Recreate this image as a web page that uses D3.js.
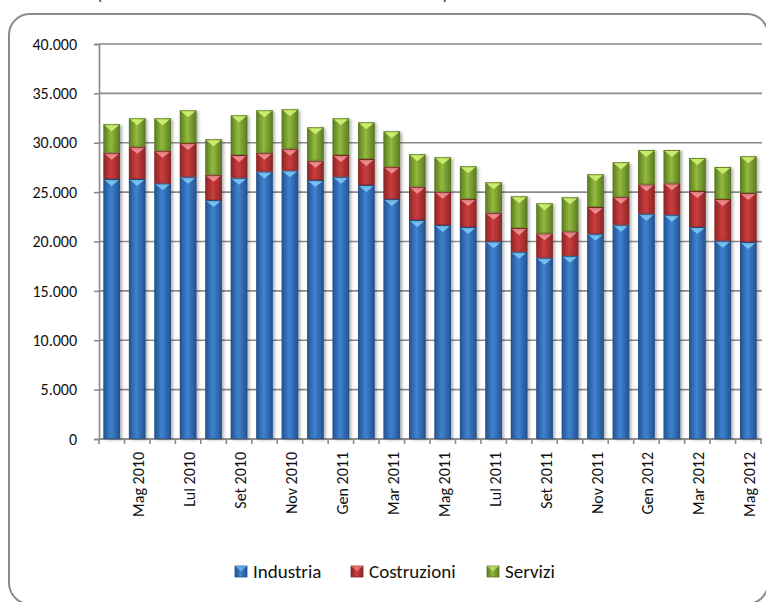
<!DOCTYPE html>
<html><head><meta charset="utf-8">
<script src="https://cdn.jsdelivr.net/npm/d3@7"></script>
<style>body{margin:0;background:#fff;}svg{display:block;}</style>
</head><body>
<svg id="c" width="766" height="602"></svg>
<script>
const months = ["Apr 2010","Mag 2010","Giu 2010","Lul 2010","Ago 2010","Set 2010","Ott 2010","Nov 2010","Dic 2010","Gen 2011","Feb 2011","Mar 2011","Apr 2011","Mag 2011","Giu 2011","Lul 2011","Ago 2011","Set 2011","Ott 2011","Nov 2011","Dic 2011","Gen 2012","Feb 2012","Mar 2012","Apr 2012","Mag 2012"];
const seriesNames = ["Industria","Costruzioni","Servizi"];
const industria   = [26330,26330,25890,26560,24200,26460,27100,27210,26230,26565,25720,24300,22175,21670,21470,20020,18970,18360,18560,20780,21700,22815,22715,21470,20085,19950];
const costruzioni = [2660,3270,3305,3410,2565,2300,1890,2190,1955,2195,2635,3275,3375,3375,2830,2900,2395,2470,2470,2715,2835,2975,3175,3645,4215,4960];
const servizi     = [2880,2875,3280,3310,3585,4020,4290,3985,3380,3715,3715,3585,3280,3480,3315,3075,3210,3035,3445,3310,3485,3475,3375,3340,3245,3720];
const yTicks = [0,5000,10000,15000,20000,25000,30000,35000,40000];

(function(){
const svg = d3.select("#c");
const font = "Carlito, Lato, 'Open Sans', sans-serif";
const colors = [
  {edge:"#24528e", mid:"#3f82d2", tip:"#7ccaf6"},
  {edge:"#8a2626", mid:"#cc3d3d", tip:"#f69494"},
  {edge:"#5a7a22", mid:"#92ba3e", tip:"#d4f274"}
];
const defs = svg.append("defs");
colors.forEach((c,i)=>{
  const g = defs.append("linearGradient").attr("id","g"+i).attr("x1","0").attr("x2","1").attr("y1","0").attr("y2","0");
  g.append("stop").attr("offset","0").attr("stop-color",c.edge);
  g.append("stop").attr("offset","0.45").attr("stop-color",c.mid);
  g.append("stop").attr("offset","1").attr("stop-color",c.edge);
});
const sh = defs.append("filter").attr("id","sh").attr("x","-30%").attr("y","-10%").attr("width","160%").attr("height","120%");
sh.append("feDropShadow").attr("dx",2).attr("dy",1).attr("stdDeviation",1.6).attr("flood-color","#000").attr("flood-opacity",0.3);

// frame
svg.append("rect").attr("x",9).attr("y",14).attr("width",759).attr("height",590).attr("rx",21)
  .attr("fill","none").attr("stroke","#8a8a8a").attr("stroke-width",2);

// cropped title parentheses (title lies above the visible area)
svg.append("text").attr("x",97).attr("y",0).attr("font-family",font).attr("font-size",16).attr("fill","#222").text("(");
svg.append("text").attr("x",443).attr("y",0).attr("font-family",font).attr("font-size",16).attr("fill","#222").text(")");

const pl = 99, pr = 761, pt = 44, pb = 439;
const x = d3.scaleBand().domain(months).range([pl,pr]).paddingInner(0.35).paddingOuter(0.175);
const y = d3.scaleLinear().domain([0,40000]).range([pb,pt]);

// gridlines
svg.append("g").selectAll("line").data(yTicks).join("line")
  .attr("x1",pl).attr("x2",pr+1).attr("y1",d=>y(d)).attr("y2",d=>y(d))
  .attr("stroke","#8a8a8a").attr("stroke-width",1.6);

// y axis
const yAx = svg.append("g").attr("transform",`translate(${pl},0)`)
  .call(d3.axisLeft(y).tickValues(yTicks).tickSize(5).tickPadding(17)
    .tickFormat(d=>d===0?"0":d3.format(",")(d).replace(/,/g,".")));
yAx.select(".domain").attr("stroke","#8a8a8a").attr("stroke-width",1.6);
yAx.selectAll(".tick line").attr("stroke","#8a8a8a").attr("stroke-width",1.6);
yAx.selectAll("text").attr("font-family",font).attr("font-size",16).attr("fill","#111");

// x axis ticks at category boundaries
const bounds = d3.range(months.length+1).map(i=>pl + i*(pr-pl)/months.length);
svg.append("g").selectAll("line").data(bounds).join("line")
  .attr("x1",d=>d).attr("x2",d=>d).attr("y1",pb).attr("y2",pb+5)
  .attr("stroke","#8a8a8a").attr("stroke-width",1.6);
svg.append("line").attr("x1",pl).attr("x2",pr).attr("y1",pb).attr("y2",pb)
  .attr("stroke","#8a8a8a").attr("stroke-width",1.6);

// stacked data
const rows = months.map((m,i)=>({month:m, Industria:industria[i], Costruzioni:costruzioni[i], Servizi:servizi[i]}));
const stack = d3.stack().keys(seriesNames)(rows);

const bw = x.bandwidth();
stack.forEach((layer,si)=>{
  const g = svg.append("g");
  layer.forEach(d=>{
    const x0 = x(d.data.month), y0 = y(d[1]), y1 = y(d[0]);
    const h = y1 - y0;
    g.append("rect").attr("x",x0).attr("y",y0).attr("width",bw).attr("height",h)
      .attr("fill",`url(#g${si})`).attr("filter","url(#sh)");
    g.append("rect").attr("x",x0+0.5).attr("y",y0+0.5).attr("width",bw-1).attr("height",h-1)
      .attr("fill","none").attr("stroke",colors[si].edge).attr("stroke-opacity",0.6).attr("stroke-width",1);
    g.append("path").attr("d",`M${x0+1},${y0+1}L${x0+bw-1},${y0+1}L${x0+bw/2},${y0+7}Z`)
      .attr("fill",colors[si].tip).attr("opacity",0.9);
  });
});

// x labels (every other month)
svg.append("g").selectAll("text").data(months.filter((m,i)=>i%2===1)).join("text")
  .attr("transform",d=>`translate(${x(d)+bw/2+7},${pb+13}) rotate(-90)`)
  .attr("text-anchor","end").attr("font-family",font).attr("font-size",16).attr("fill","#111")
  .text(d=>d);

// legend
const legX = [235, 351, 487];
const lg = svg.append("g");
seriesNames.forEach((n,i)=>{
  lg.append("rect").attr("x",legX[i]).attr("y",566).attr("width",12).attr("height",11)
    .attr("fill",`url(#g${i})`).attr("stroke",colors[i].edge).attr("stroke-width",0.8);
  lg.append("path").attr("d",`M${legX[i]},566L${legX[i]+12},566L${legX[i]+6},571.5Z`).attr("fill",colors[i].tip).attr("opacity",0.6);
  lg.append("text").attr("x",legX[i]+18).attr("y",578).attr("font-family",font).attr("font-size",19).attr("fill","#111").text(n);
});
})();
</script>
</body></html>
